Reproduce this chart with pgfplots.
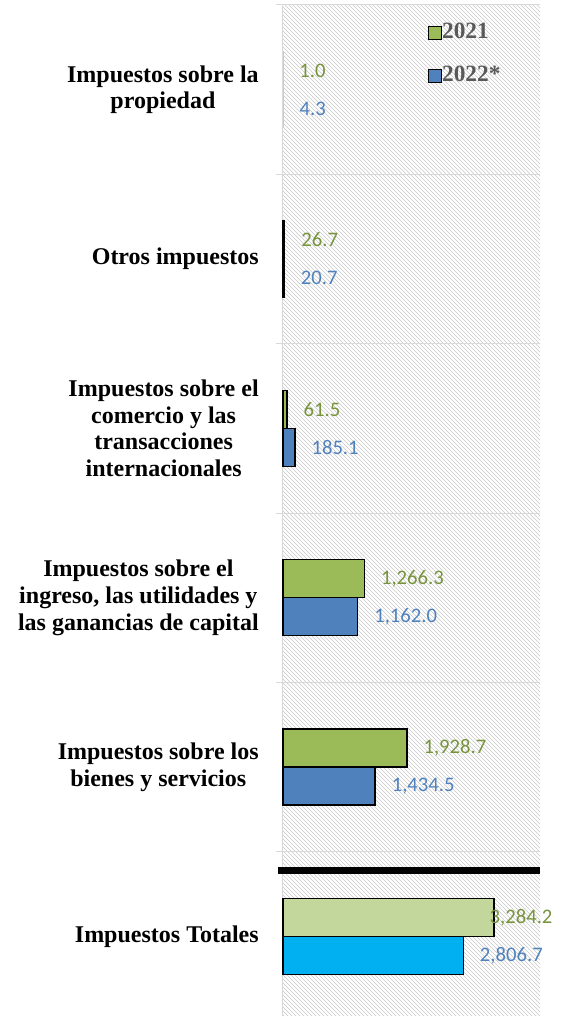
\documentclass[border=0pt]{standalone}
\usepackage{pgfplots}
\pgfplotsset{compat=1.18}
\usepackage{fontspec}
\setmainfont{Liberation Serif}
\newfontfamily\calibri{Carlito}
\usetikzlibrary{patterns}
\definecolor{g21}{HTML}{9BBB59}
\definecolor{b22}{HTML}{4F81BD}
\definecolor{gT}{HTML}{C3D69B}
\definecolor{bT}{HTML}{00B0F0}
\definecolor{gtxt}{HTML}{77933C}
\definecolor{btxt}{HTML}{4F81BD}
\definecolor{legtxt}{HTML}{595959}
\definecolor{gridc}{HTML}{D9D9D9}
\definecolor{hatch}{HTML}{C8C8C8}
\begin{document}
\begin{tikzpicture}
\begin{axis}[
  scale only axis, width=192.75pt, height=758.25pt,
  xmin=0, xmax=4000, ymin=-0.47, ymax=5.5,
  xbar, bar width=28.5pt,
  axis x line=none, axis y line=left,
  y axis line style={-, draw=gridc, line width=0.75pt},
  ytick={0,...,5},
  yticklabels={{Impuestos Totales},{Impuestos sobre los\\bienes y servicios},{Impuestos sobre el\\ingreso, las utilidades y\\las ganancias de capital},{Impuestos sobre el\\comercio y las\\transacciones\\internacionales},{Otros impuestos},{Impuestos sobre la\\propiedad}},
  major tick length=0pt,
  minor ytick={0.5,1.5,2.5,3.5,4.5,5.5},
  minor tick length=5.25pt, tick align=outside, ytick pos=left,
  minor tick style={draw=gridc, line width=0.75pt},
  yminorgrids, minor grid style={draw=gridc, line width=0.75pt},
  yticklabel style={align=center, font=\bfseries\fontsize{18}{20}\selectfont, inner sep=0pt, xshift=-18pt},
  axis background/.style={pattern=north west lines, pattern color=hatch},
  point meta=x,
  nodes near coords={\pgfmathprintnumber[fixed, fixed zerofill, precision=1, 1000 sep={,}, assume math mode=true]{\pgfplotspointmeta}},
  every node near coord/.append style={font=\calibri\fontsize{15.5}{18}\selectfont, anchor=west, inner sep=0pt, xshift=12pt},
  legend style={at={(axis description cs:0.548,0.986)}, anchor=north west, draw=none, fill=none,
    font=\bfseries\fontsize{17.5}{20}\selectfont, text=legtxt, row sep=19.75pt,
    nodes={inner sep=0pt, text height=12pt, text depth=0pt}},
  legend cell align=left,
  clip=false,
]
\addplot[fill=g21, draw=black, line width=1pt, bar shift=14.25pt,
  every node near coord/.append style={text=gtxt},
  legend image code/.code={\path[draw=none, fill=none] (0pt,-4.5pt) rectangle (9.75pt,5.25pt); \draw[fill=g21, draw=black, line width=0.75pt] (0pt,-6.75pt) rectangle (9.75pt,3pt);}]
  coordinates {(1928.7,1) (1266.3,2) (61.5,3) (26.7,4)};
\addlegendentry{2021}
\addplot[fill=b22, draw=black, line width=1pt, bar shift=-14.25pt,
  every node near coord/.append style={text=btxt},
  legend image code/.code={\path[draw=none, fill=none] (0pt,-4.5pt) rectangle (9.75pt,5.25pt); \draw[fill=b22, draw=black, line width=0.75pt] (0pt,-6.75pt) rectangle (9.75pt,3pt);}]
  coordinates {(1434.5,1) (1162.0,2) (185.1,3) (20.7,4)};
\addlegendentry{2022*}
\addplot[forget plot, fill=g21, draw=gray!40, line width=0.5pt, bar shift=14.25pt,
  every node near coord/.append style={text=gtxt}]
  coordinates {(1.0,5)};
\addplot[forget plot, fill=b22, draw=gray!40, line width=0.5pt, bar shift=-14.25pt,
  every node near coord/.append style={text=btxt}]
  coordinates {(4.3,5)};
\addplot[forget plot, fill=gT, draw=black, line width=1pt, bar shift=14.25pt,
  every node near coord/.append style={text=gtxt, xshift=-15.75pt}]
  coordinates {(3284.2,0)};
\addplot[forget plot, fill=bT, draw=black, line width=1pt, bar shift=-14.25pt,
  every node near coord/.append style={text=btxt}]
  coordinates {(2806.7,0)};
\draw[line width=5.25pt, black] ([xshift=-3.75pt]axis cs:0,0.39) -- (axis cs:4000,0.39);
\coordinate (BL) at (rel axis cs:0,0);
\coordinate (TR) at (rel axis cs:1,1);
\end{axis}
\pgfresetboundingbox
\path ([xshift=-212.25pt]BL) rectangle ([xshift=16.5pt,yshift=3.75pt]TR);
\end{tikzpicture}
\end{document}
